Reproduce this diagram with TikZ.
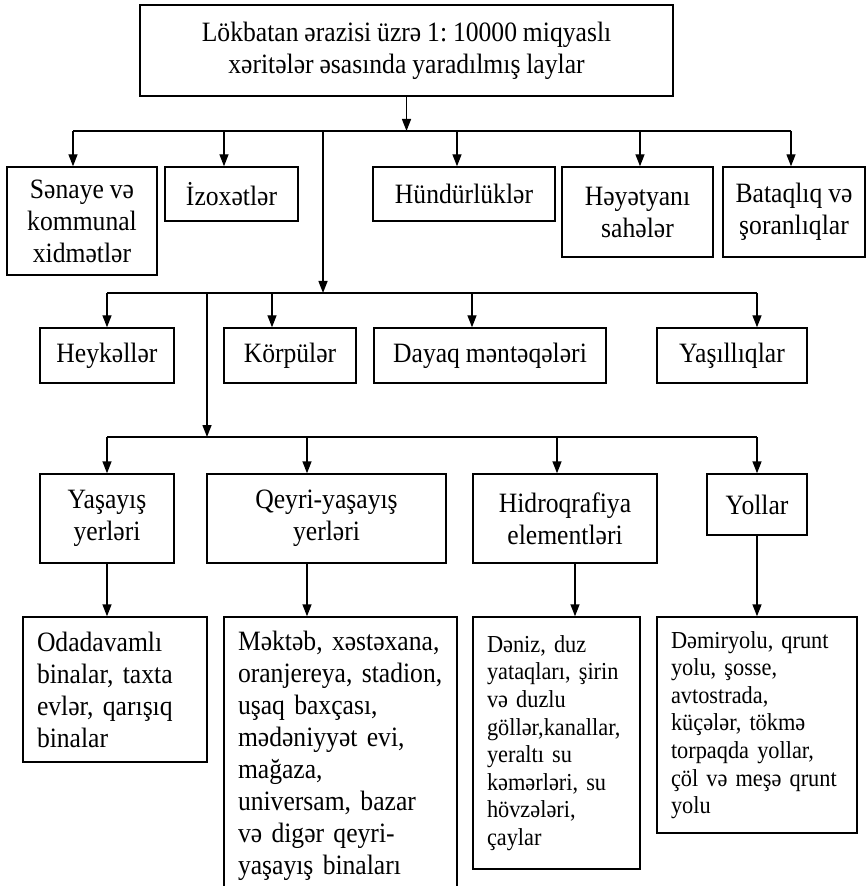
\documentclass[tikz,border=0pt]{standalone}
\usepackage{fontspec}
\setmainfont{Liberation Serif}[FakeStretch=0.915, WordSpace=0.92]
\usetikzlibrary{arrows.meta}
\newcommand\boxfont{\fontsize{14pt}{16pt}\selectfont\frenchspacing}
\newcommand\smallboxfont{\fontsize{12.2pt}{13.8pt}\selectfont\frenchspacing}

\begin{document}
\begin{tikzpicture}[x=0.5pt,y=-0.5pt,
  layer/.style={draw, line width=0.7pt, align=center, inner sep=0pt, font=\boxfont},
  list/.style={draw, line width=0.7pt, align=left, inner xsep=7pt, inner ysep=0pt},
  arr/.style={line width=0.7pt, -{Triangle[length=6pt,width=4.5pt]}},
  bus/.style={line width=0.7pt}]
  \useasboundingbox (0,0) rectangle (866,886);
  % top box
  \node[layer, minimum width=266.5pt, minimum height=45.5pt] (top) at (406.5,50.5)
    {Lökbatan ərazisi üzrə 1: 10000 miqyaslı\\xəritələr əsasında yaradılmış laylar};
  % first row
  \node[layer, minimum width=75pt, minimum height=54pt] (sanaye) at (82,221)
    {Sənaye və\\kommunal\\xidmətlər};
  \node[layer, minimum width=66.5pt, minimum height=27pt] (izo) at (231.5,194) {İzoxətlər};
  \node[layer, minimum width=91pt, minimum height=27pt] (hund) at (464,194) {Hündürlüklər};
  \node[layer, minimum width=75.5pt, minimum height=45pt] (heyat) at (637.5,212)
    {Həyətyanı\\sahələr};
  \node[layer, minimum width=71pt, minimum height=45pt] (bataq) at (794,212)
    {Bataqlıq və\\şoranlıqlar};
  % second row
  \node[layer, minimum width=67pt, minimum height=27.5pt] (heyk) at (107,355.5) {Heykəllər};
  \node[layer, minimum width=66pt, minimum height=27.5pt] (korp) at (290,355.5) {Körpülər};
  \node[layer, minimum width=116pt, minimum height=27.5pt] (dayaq) at (490,355.5)
    {Dayaq məntəqələri};
  \node[layer, minimum width=75pt, minimum height=27.5pt] (yasil) at (732,355.5) {Yaşıllıqlar};
  % third row
  \node[layer, minimum width=67pt, minimum height=44.5pt] (yasay) at (107,518.5)
    {Yaşayış\\yerləri};
  \node[layer, minimum width=119.5pt, minimum height=44.5pt] (qeyri) at (326.5,518.5)
    {Qeyri-yaşayış\\yerləri};
  \node[layer, minimum width=92pt, minimum height=44.5pt] (hidro) at (565,518.5)
    {Hidroqrafiya\\elementləri};
  \node[layer, minimum width=50pt, minimum height=30.5pt] (yollar) at (757,504.5) {Yollar};
  % lists
  \node[list, font=\boxfont, text width=78pt, minimum height=72.5pt] (oda) at (115,689.5)
    {Odadavamlı\\binalar, taxta\\evlər, qarışıq\\binalar};
  \node[list, font=\boxfont, text width=102.5pt, minimum height=138.5pt] (mekteb) at (340.5,755.5)
    {Məktəb, xəstəxana,\\oranjereya, stadion,\\uşaq baxçası,\\mədəniyyət evi,\\mağaza,\\universam, bazar\\və digər qeyri-\\yaşayış binaları};
  \node[list, font=\smallboxfont, text width=69.5pt, minimum height=126pt] (deniz) at (556.5,743)
    {Dəniz, duz\\yataqları, şirin\\və duzlu\\göllər,kanallar,\\yeraltı su\\kəmərləri, su\\hövzələri,\\çaylar};
  \node[list, font=\smallboxfont, text width=86pt, minimum height=108pt] (demir) at (757,725)
    {Dəmiryolu, qrunt\\yolu, şosse,\\avtostrada,\\küçələr, tökmə\\torpaqda yollar,\\çöl və meşə qrunt\\yolu};

  % first level connectors
  \coordinate (b1) at (323,131);
  \draw[arr] (top) -- (top |- b1);
  \draw[bus] ([xshift=-4.5pt]sanaye.north |- b1) -- ([xshift=-1.5pt]bataq.north |- b1);
  \draw[arr] ([xshift=-4.5pt]sanaye.north |- b1) -- ([xshift=-4.5pt]sanaye.north);
  \draw[arr] ([xshift=-3.75pt]izo.north |- b1) -- ([xshift=-3.75pt]izo.north);
  \draw[arr] ([xshift=-3.5pt]hund.north |- b1) -- ([xshift=-3.5pt]hund.north);
  \draw[arr] ([xshift=1.25pt]heyat.north |- b1) -- ([xshift=1.25pt]heyat.north);
  \draw[arr] ([xshift=-1.5pt]bataq.north |- b1) -- ([xshift=-1.5pt]bataq.north);
  % second level connectors
  \coordinate (b2) at (207,293);
  \draw[arr] (b1) -- (b1 |- b2);
  \draw[bus] (heyk.north |- b2) -- ([xshift=12.5pt]yasil.north |- b2);
  \draw[arr] (heyk.north |- b2) -- (heyk.north);
  \draw[arr] ([xshift=-9pt]korp.north |- b2) -- ([xshift=-9pt]korp.north);
  \draw[arr] ([xshift=-9pt]dayaq.north |- b2) -- ([xshift=-9pt]dayaq.north);
  \draw[arr] ([xshift=12.5pt]yasil.north |- b2) -- ([xshift=12.5pt]yasil.north);
  % third level connectors
  \coordinate (b3) at (107,437);
  \draw[arr] (b2) -- (b2 |- b3);
  \draw[bus] (yasay.north |- b3) -- (yollar.north |- b3);
  \draw[arr] (yasay.north |- b3) -- (yasay.north);
  \draw[arr] ([xshift=-9.75pt]qeyri.north |- b3) -- ([xshift=-9.75pt]qeyri.north);
  \draw[arr] ([xshift=-4pt]hidro.north |- b3) -- ([xshift=-4pt]hidro.north);
  \draw[arr] (yollar.north |- b3) -- (yollar.north);
  % down to the lists
  \draw[arr] (yasay) -- (yasay |- oda.north);
  \draw[arr] ([xshift=-9.75pt]qeyri.south) -- ([xshift=-9.75pt]qeyri.south |- mekteb.north);
  \draw[arr] ([xshift=5pt]hidro.south) -- ([xshift=5pt]hidro.south |- deniz.north);
  \draw[arr] (yollar) -- (yollar |- demir.north);
\end{tikzpicture}
\end{document}
